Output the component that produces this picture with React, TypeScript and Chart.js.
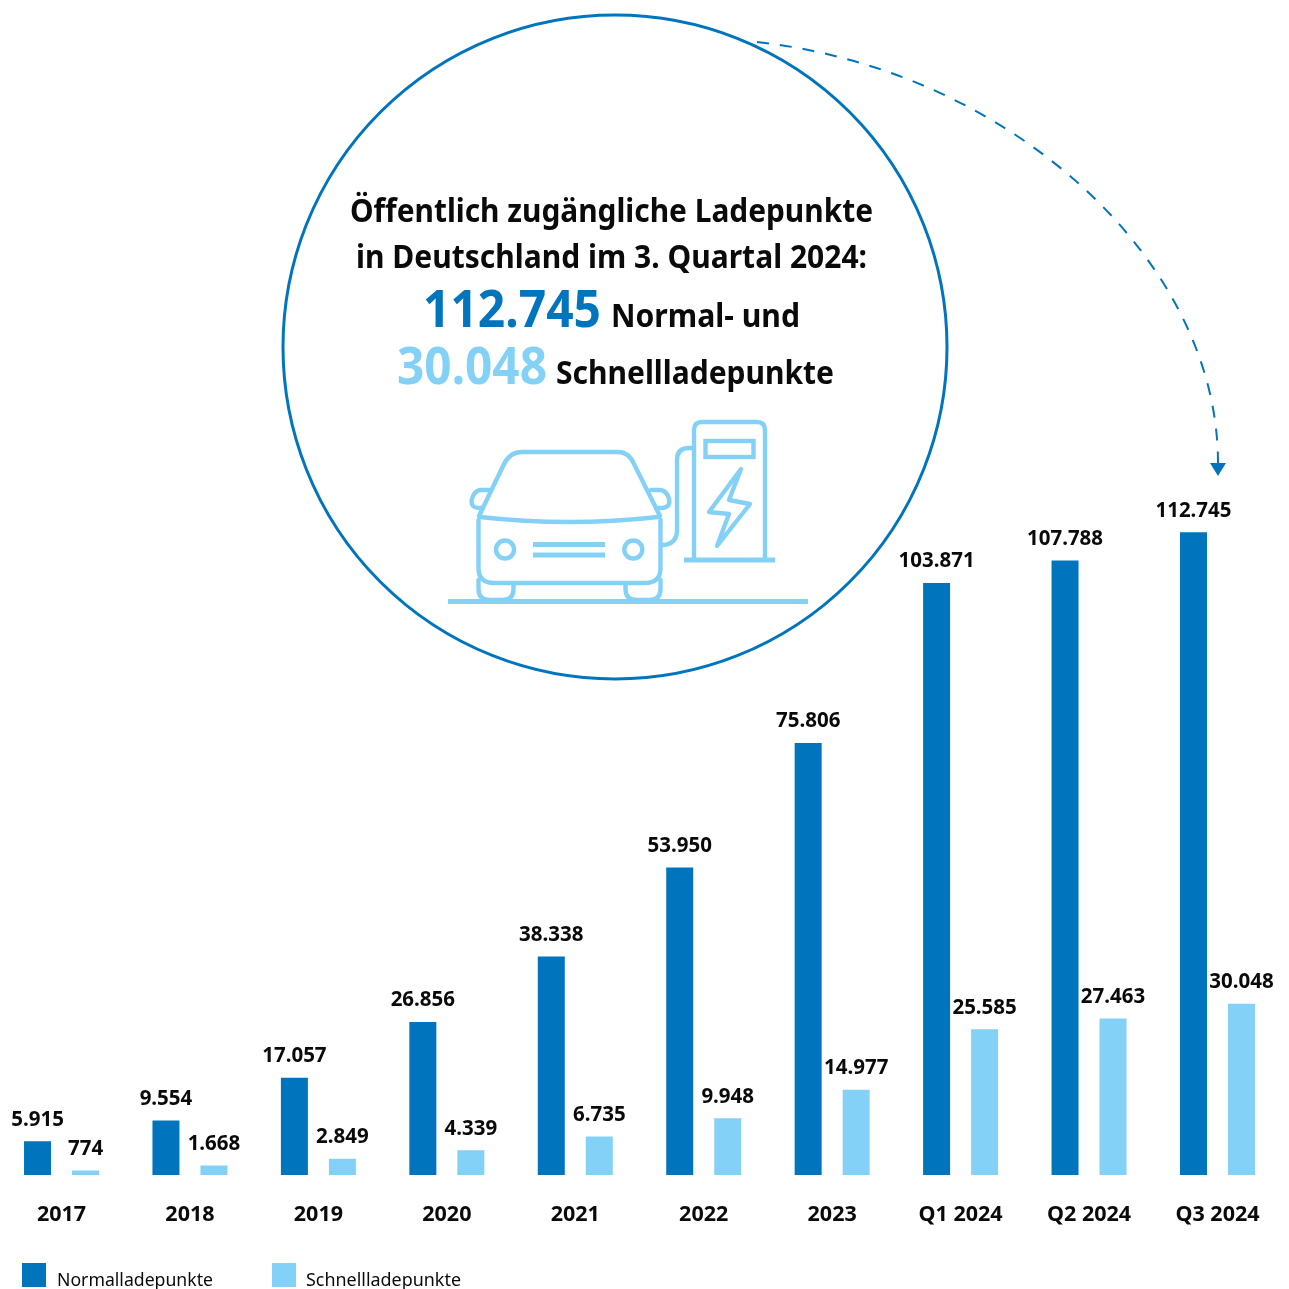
import React, { useEffect, useRef } from "react";
import { Chart, registerables } from "chart.js";

Chart.register(...registerables);

const categories = ["2017", "2018", "2019", "2020", "2021", "2022", "2023", "Q1 2024", "Q2 2024", "Q3 2024"];
const normalPoints = [5915, 9554, 17057, 26856, 38338, 53950, 75806, 103871, 107788, 112745];
const fastPoints = [774, 1668, 2849, 4339, 6735, 9948, 14977, 25585, 27463, 30048];
const seriesNames = ["Normalladepunkte", "Schnellladepunkte"];

const titleLines = ["Öffentlich zugängliche Ladepunkte", "in Deutschland im 3. Quartal 2024:"];
const normalCaption = "Normal- und";
const fastCaption = "Schnellladepunkte";

const BLUE = "#0075BE";
const SKY = "#84D1F7";
const INK = "#0a0a0a";
const FONT = "'Noto Sans'";
// The canvas starts a little left of the page so the first category can sit at its place.
const CANVAS_SHIFT = 3;

const formatDe = new Intl.NumberFormat("de-DE");

// Draws a string starting at x so that it occupies the given width.
function fittedText(ctx: CanvasRenderingContext2D, text: string, x: number, y: number, width: number) {
  ctx.textAlign = "left";
  ctx.fillText(text, x, y, width);
}

function drawCallout(ctx: CanvasRenderingContext2D) {
  ctx.save();
  ctx.strokeStyle = BLUE;
  ctx.lineWidth = 3;
  ctx.beginPath();
  ctx.arc(615, 347, 332, 0, Math.PI * 2);
  ctx.stroke();

  ctx.lineWidth = 2;
  ctx.setLineDash([12, 11]);
  ctx.beginPath();
  ctx.moveTo(757, 42);
  ctx.bezierCurveTo(1010, 70, 1218, 260, 1218, 463);
  ctx.stroke();
  ctx.setLineDash([]);
  ctx.fillStyle = BLUE;
  ctx.beginPath();
  ctx.moveTo(1210, 463);
  ctx.lineTo(1226, 463);
  ctx.lineTo(1218, 476);
  ctx.closePath();
  ctx.fill();

  ctx.textBaseline = "alphabetic";
  ctx.fillStyle = INK;
  ctx.font = `700 33px ${FONT}`;
  fittedText(ctx, titleLines[0], 350, 222, 523);
  fittedText(ctx, titleLines[1], 356, 268, 511);
  fittedText(ctx, normalCaption, 611, 327, 189);
  fittedText(ctx, fastCaption, 556, 384, 278);

  ctx.font = `700 52px ${FONT}`;
  ctx.fillStyle = BLUE;
  fittedText(ctx, formatDe.format(normalPoints[normalPoints.length - 1]), 423, 327, 178);
  ctx.fillStyle = SKY;
  fittedText(ctx, formatDe.format(fastPoints[fastPoints.length - 1]), 397, 384, 150);
  ctx.restore();
}

// Outline pictogram of a car at a charging station.
function drawCarIcon(ctx: CanvasRenderingContext2D) {
  ctx.save();
  ctx.strokeStyle = SKY;
  ctx.lineWidth = 4.4;
  ctx.lineJoin = "round";
  ctx.lineCap = "round";

  const stroke = (build: () => void) => {
    ctx.beginPath();
    build();
    ctx.stroke();
  };

  // body
  stroke(() => {
    ctx.moveTo(478.5, 520);
    ctx.lineTo(478.5, 568);
    ctx.quadraticCurveTo(478.5, 583, 494, 583);
    ctx.lineTo(645, 583);
    ctx.quadraticCurveTo(660.5, 583, 660.5, 568);
    ctx.lineTo(660.5, 520);
  });
  // roof and windscreen
  stroke(() => {
    ctx.moveTo(479, 516);
    ctx.lineTo(504, 464);
    ctx.quadraticCurveTo(510, 452, 522, 452);
    ctx.lineTo(618, 452);
    ctx.quadraticCurveTo(629, 452, 634, 464);
    ctx.lineTo(660, 516);
  });
  // bonnet edge
  stroke(() => {
    ctx.moveTo(480, 517);
    ctx.quadraticCurveTo(569, 527, 658, 517);
  });
  // mirrors
  stroke(() => {
    ctx.moveTo(490, 490);
    ctx.lineTo(481, 490);
    ctx.quadraticCurveTo(476, 490, 473, 496);
    ctx.quadraticCurveTo(468, 508, 480, 508);
    ctx.lineTo(483, 508);
  });
  stroke(() => {
    ctx.moveTo(651, 490);
    ctx.lineTo(660, 490);
    ctx.quadraticCurveTo(665, 490, 668, 496);
    ctx.quadraticCurveTo(673, 508, 660, 508);
    ctx.lineTo(656, 508);
  });
  // headlights
  stroke(() => ctx.arc(505, 549.5, 9, 0, Math.PI * 2));
  stroke(() => ctx.arc(633.3, 549.5, 9, 0, Math.PI * 2));
  // wheels
  stroke(() => {
    ctx.moveTo(478.5, 580);
    ctx.lineTo(478.5, 589);
    ctx.quadraticCurveTo(478.5, 600, 490, 600);
    ctx.lineTo(502, 600);
    ctx.quadraticCurveTo(513.5, 600, 513.5, 589);
    ctx.lineTo(513.5, 584);
  });
  stroke(() => {
    ctx.moveTo(625.5, 584);
    ctx.lineTo(625.5, 589);
    ctx.quadraticCurveTo(625.5, 600, 637, 600);
    ctx.lineTo(649, 600);
    ctx.quadraticCurveTo(660.5, 600, 660.5, 589);
    ctx.lineTo(660.5, 580);
  });
  // charging post
  stroke(() => {
    ctx.moveTo(694, 558);
    ctx.lineTo(694, 430);
    ctx.quadraticCurveTo(694, 422, 702, 422);
    ctx.lineTo(757, 422);
    ctx.quadraticCurveTo(765, 422, 765, 430);
    ctx.lineTo(765, 558);
  });
  // display
  ctx.lineJoin = "miter";
  ctx.strokeRect(705.5, 441, 48, 16);
  ctx.lineJoin = "round";
  // lightning bolt
  stroke(() => {
    ctx.moveTo(741, 469);
    ctx.lineTo(709, 512);
    ctx.lineTo(729, 514);
    ctx.lineTo(717, 546);
    ctx.lineTo(750, 504);
    ctx.lineTo(729, 500);
    ctx.closePath();
  });
  // cable
  stroke(() => {
    ctx.moveTo(693, 448);
    ctx.lineTo(689, 448);
    ctx.quadraticCurveTo(677, 448, 677, 460);
    ctx.lineTo(677, 530);
    ctx.quadraticCurveTo(677, 544, 663, 545);
  });

  ctx.lineCap = "butt";
  ctx.lineWidth = 5;
  stroke(() => {
    ctx.moveTo(533, 544.5);
    ctx.lineTo(605, 544.5);
    ctx.moveTo(533, 555);
    ctx.lineTo(605, 555);
  });
  stroke(() => {
    ctx.moveTo(684, 560);
    ctx.lineTo(775, 560);
  });
  stroke(() => {
    ctx.moveTo(448, 601.5);
    ctx.lineTo(808, 601.5);
  });
  ctx.restore();
}

const overlayPlugin = {
  id: "overlay",
  afterDatasetsDraw(chart: Chart) {
    const { ctx } = chart;

    // value labels above each bar
    ctx.save();
    ctx.font = `700 20.5px ${FONT}`;
    ctx.fillStyle = INK;
    ctx.textAlign = "center";
    ctx.textBaseline = "alphabetic";
    chart.data.datasets.forEach((dataset, i) => {
      chart.getDatasetMeta(i).data.forEach((bar, j) => {
        ctx.fillText(formatDe.format(dataset.data[j] as number), bar.x, bar.y - 15.5, 76);
      });
    });
    ctx.restore();

    ctx.save();
    ctx.translate(CANVAS_SHIFT, 0);
    drawCallout(ctx);
    drawCarIcon(ctx);

    // legend row
    ctx.font = `400 18px ${FONT}`;
    ctx.textAlign = "left";
    ctx.textBaseline = "alphabetic";
    const swatchX = [22, 272];
    const labelX = [57, 306];
    const labelWidth = [156, 155];
    chart.data.datasets.forEach((dataset, i) => {
      ctx.fillStyle = dataset.backgroundColor as string;
      ctx.fillRect(swatchX[i], 1263, 24, 24);
      ctx.fillStyle = INK;
      ctx.fillText(dataset.label as string, labelX[i], 1285.5, labelWidth[i]);
    });
    ctx.restore();
  },
};

export default function App() {
  const ref = useRef<HTMLCanvasElement>(null);

  useEffect(() => {
    const chart = new Chart(ref.current!, {
      type: "bar",
      data: {
        labels: categories,
        datasets: [
          { label: seriesNames[0], data: normalPoints, backgroundColor: BLUE },
          { label: seriesNames[1], data: fastPoints, backgroundColor: SKY },
        ],
      },
      options: {
        responsive: false,
        animation: false,
        layout: { padding: { left: 0.3, right: 7.3, top: 491, bottom: 0 } },
        datasets: { bar: { categoryPercentage: 96 / 128.44, barPercentage: 27 / 48 } },
        plugins: { legend: { display: false }, tooltip: { enabled: false } },
        scales: {
          x: {
            grid: { display: false },
            border: { display: false },
            ticks: {
              color: INK,
              font: { family: "Noto Sans", weight: "bold", size: 21.5 },
              padding: 19,
              maxRotation: 0,
              autoSkip: false,
            },
            afterFit(scale) {
              scale.height = 114;
            },
          },
          y: { display: false, min: 0, max: 120000 },
        },
      },
      plugins: [overlayPlugin],
    });
    return () => chart.destroy();
  }, []);

  return (
    <canvas
      ref={ref}
      width={1289 + CANVAS_SHIFT}
      height={1289}
      style={{ position: "absolute", left: -CANVAS_SHIFT, top: 0, display: "block" }}
    />
  );
}
